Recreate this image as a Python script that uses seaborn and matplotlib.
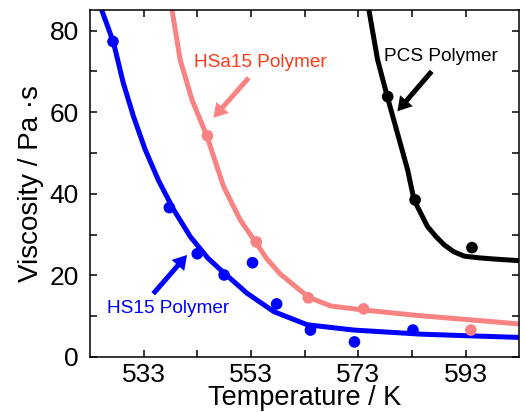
import matplotlib
matplotlib.use("Agg")
import matplotlib.pyplot as plt
import seaborn as sns

sns.set_theme(style="ticks")
plt.rcParams['font.family'] = ['Liberation Sans', 'DejaVu Sans']
plt.rcParams['text.color'] = 'black'
plt.rcParams['axes.labelcolor'] = 'black'
plt.rcParams['xtick.color'] = 'black'
plt.rcParams['ytick.color'] = 'black'
plt.rcParams['axes.edgecolor'] = 'black'

# measured points
hs15_T = [527.3, 537.8, 543.0, 548.0, 553.3, 557.8, 564.1, 572.3, 583.2]
hs15_eta = [77.3, 36.6, 25.3, 20.1, 23.1, 13.0, 6.6, 3.7, 6.6]
hsa15_T = [544.9, 554.0, 563.7, 574.0, 594.0]
hsa15_eta = [54.2, 28.2, 14.5, 11.8, 6.6]
pcs_T = [578.5, 583.6, 594.2]
pcs_eta = [63.8, 38.5, 26.8]

# fitted curves
hs15_fit_T = [525.2, 527.4, 529.2, 531.1, 533.3, 535.8, 538.6, 541.7, 545.0,
              547.9, 552.3, 557.3, 563.5, 572.2, 584.7, 593.5, 603.0]
hs15_fit_eta = [85.0, 77.0, 67.2, 59.0, 50.8, 43.2, 36.1, 29.5, 24.2,
                20.7, 15.6, 11.1, 7.9, 6.6, 5.6, 5.2, 4.8]
hsa15_fit_T = [538.3, 539.8, 542.0, 544.8, 547.9, 551.0, 553.8, 556.0, 558.5,
               563.8, 567.9, 574.1, 584.7, 594.0, 603.0]
hsa15_fit_eta = [85.0, 72.9, 63.1, 54.1, 41.8, 33.6, 28.3, 24.0, 20.3,
                 14.6, 12.5, 11.5, 10.1, 9.1, 8.1]
pcs_fit_T = [575.0, 576.6, 578.4, 580.3, 582.2, 583.4, 585.9, 587.5, 589.0,
             590.8, 592.8, 595.5, 598.4, 603.0]
pcs_fit_eta = [85.0, 72.9, 63.9, 54.9, 45.9, 38.5, 32.0, 29.5, 27.5,
               25.8, 24.7, 24.3, 24.0, 23.6]

blue = '#0000ff'
pink = '#f98383'
black = '#000000'

fig = plt.figure(figsize=(5.26, 4.12), dpi=100)
ax = fig.add_axes([0.171, 0.1335, 0.816, 0.842])

for T, eta, c in [(hs15_fit_T, hs15_fit_eta, blue),
                  (hsa15_fit_T, hsa15_fit_eta, pink),
                  (pcs_fit_T, pcs_fit_eta, black)]:
    sns.lineplot(x=T, y=eta, color=c, lw=3.6, sort=False, ax=ax)

for T, eta, c in [(hs15_T, hs15_eta, blue),
                  (hsa15_T, hsa15_eta, pink),
                  (pcs_T, pcs_eta, black)]:
    sns.scatterplot(x=T, y=eta, color=c, s=70, edgecolor='none', ax=ax, zorder=3)

# labels and arrows
arrow = dict(width=3.6, headwidth=12, headlength=10, edgecolor='none',
             shrink=0)
ax.annotate('', xy=(546.0, 58.6), xytext=(552.6, 68.4),
            arrowprops=dict(arrow, facecolor=pink))
ax.annotate('', xy=(580.3, 60.2), xytext=(586.7, 70.0),
            arrowprops=dict(arrow, facecolor=black))
ax.annotate('', xy=(541.1, 25.0), xytext=(534.8, 15.5),
            arrowprops=dict(arrow, facecolor=blue))
ax.text(554.8, 72.1, 'HSa15 Polymer', color='#ff3a1a', fontsize=13.7,
        ha='center', va='center')
ax.text(588.5, 73.6, 'PCS Polymer', color=black, fontsize=13.7,
        ha='center', va='center')
ax.text(537.6, 12.0, 'HS15 Polymer', color=blue, fontsize=13.7,
        ha='center', va='center')

ax.set_xlim(523, 603)
ax.set_ylim(0, 85)
ax.set_xticks([533, 553, 573, 593])
ax.set_xticks([543, 563, 583], minor=True)
ax.set_yticks([0, 20, 40, 60, 80])
ax.set_yticks([10, 30, 50, 70], minor=True)
ax.tick_params(which='both', direction='in', top=True, right=True,
               length=5, width=1.1, labelsize=19)
ax.tick_params(axis='x', which='both', pad=4)
ax.tick_params(axis='y', which='both', pad=8)
for s in ax.spines.values():
    s.set_linewidth(1.1)
    s.set_visible(True)

ax.set_xlabel('Temperature / K', fontsize=19.5, labelpad=-1)
ax.set_ylabel('Viscosity / Pa \u00b7s', fontsize=20, labelpad=4)

fig.savefig('out.png', dpi=100)
